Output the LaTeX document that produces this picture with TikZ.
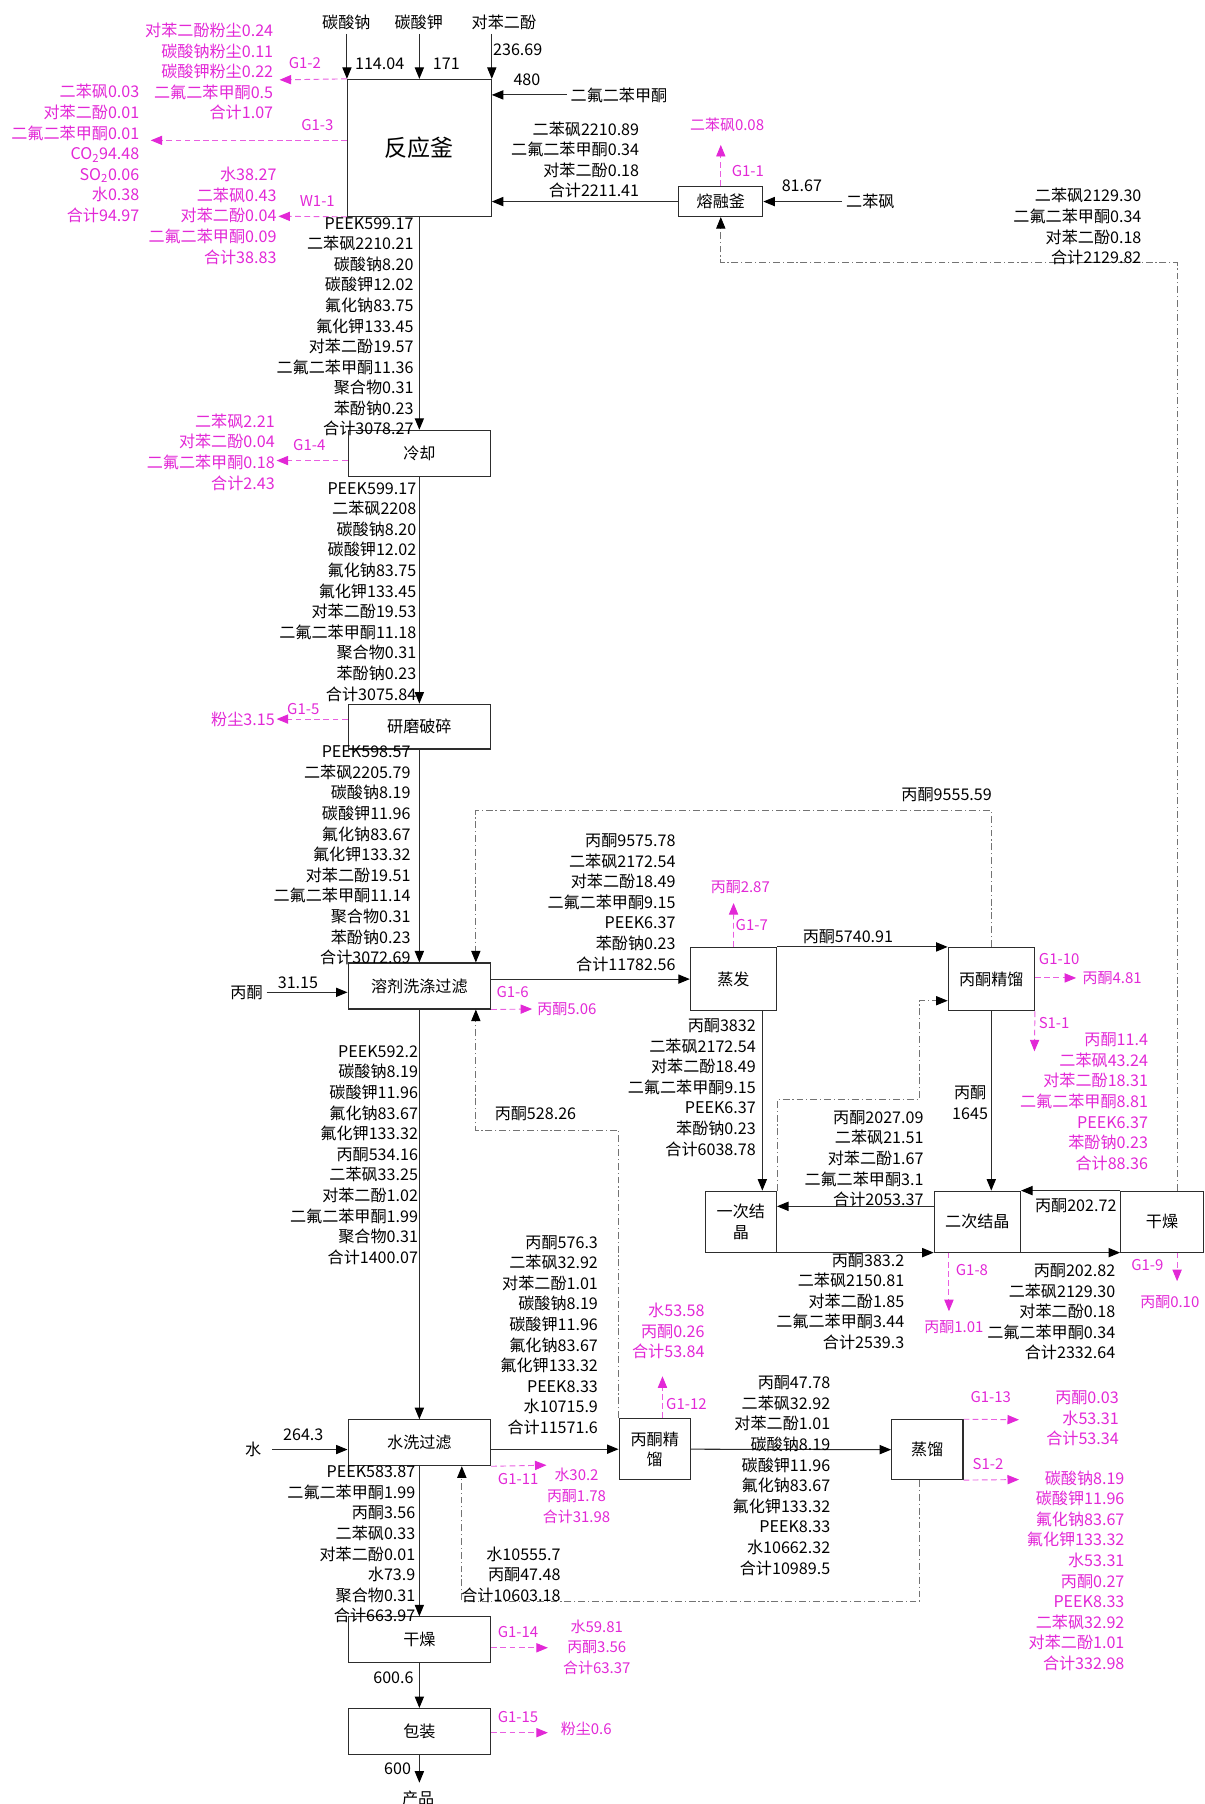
\documentclass[tikz,border=0pt]{standalone}
\usepackage{fontspec}
\setmainfont{Noto Sans CJK SC}
\usetikzlibrary{arrows.meta}
\definecolor{pinkc}{RGB}{226,40,214}
\definecolor{linec}{RGB}{45,45,45}
\tikzset{
  every node/.style={font=\fontsize{14}{17.9}\selectfont},
  box/.style={draw=linec, line width=0.9pt, minimum width=124pt, minimum height=40pt, inner sep=1pt},
  flow/.style={draw=linec, line width=0.9pt, -{Triangle[length=10pt,width=8pt,color=black]}},
  gas/.style={draw=pinkc!75, line width=0.8pt, dash pattern=on 5pt off 3pt, -{Triangle[length=10pt,width=8pt,color=pinkc]}},
  recyc/.style={draw=gray!90!black, line width=0.7pt, dash pattern=on 6pt off 2.5pt on 1pt off 2.5pt, -{Triangle[length=10pt,width=8pt,color=black]}},
  dat/.style={align=right, inner sep=0pt, anchor=east},
  mdat/.style={dat, text=pinkc},
  tag/.style={inner sep=0pt, text=pinkc, font=\fontsize{13}{17.9}\selectfont},
}
\begin{document}
\begin{tikzpicture}[x=1pt,y=-1pt]
\useasboundingbox (0,0) rectangle (1047,1568);

% process units
\node[box, minimum width=125pt, minimum height=119pt, font=\fontsize{20}{24}\selectfont] (reactor) at (364.5,128.5) {反应釜};
\node[box, minimum width=73pt, minimum height=26pt] (melt) at (626.5,175.2) {熔融釜};
\node[box] (cool) at (364.5,394) {冷却};
\node[box, minimum height=39pt] (grind) at (364.5,631.5) {研磨破碎};
\node[box] (wash) at (364.5,857) {溶剂洗涤过滤};
\node[box, minimum width=75pt, minimum height=55pt] (evap) at (637.5,851) {蒸发};
\node[box, minimum width=75pt, minimum height=55pt] (acet1) at (861.6,851) {丙酮精馏};
\node[box, minimum width=62pt, minimum height=53pt, align=center] (cryst1) at (643.9,1061.8) {一次结\\晶};
\node[box, minimum width=75pt, minimum height=53pt] (cryst2) at (849.5,1061.8) {二次结晶};
\node[box, minimum width=72pt, minimum height=53pt] (dry1) at (1010,1061.8) {干燥};
\node[box] (wwash) at (364.5,1254) {水洗过滤};
\node[box, minimum width=62pt, minimum height=53pt, align=center] (acet2) at (569.1,1259.6) {丙酮精\\馏};
\node[box, minimum width=62pt, minimum height=52pt] (dist) at (806,1260) {蒸馏};
\node[box] (dry2) at (364.5,1425.3) {干燥};
\node[box] (pack) at (364.5,1505) {包装};

% main line
\draw[flow] (reactor.south) -- (cool.north);
\draw[flow] (cool.south) -- (grind.north);
\draw[flow] (grind.south) -- (wash.north);
\draw[flow] (wash.south) -- (wwash.north);
\draw[flow] (wwash.south) -- (dry2.north);
\draw[flow] (dry2.south) -- (pack.north);
\coordinate (prod) at (364.5,1549.5);
\draw[flow] (pack.south) -- (prod);
\node (prodt) at (363.5,1563) {产品};
\node (n6006) at (342,1458.3) {600.6};
\node (n600) at (345.6,1537) {600};

% raw materials
\node (na) at (301,19.5) {碳酸钠};
\node (kk) at (364,19.5) {碳酸钾};
\node (hq) at (438,19.5) {对苯二酚};
\draw[flow] (reactor.north west |- na.south) -- (reactor.north west);
\draw[flow] (reactor.north |- kk.south) -- (reactor.north);
\draw[flow] (reactor.north east |- hq.south) -- (reactor.north east);
\node (n11404) at (330,55) {114.04};
\node (n171) at (388,55) {171};
\node (n23669) at (450,43) {236.69};
\node (dfbp) at (538,82.5) {二氟二苯甲酮};
\draw[flow] (dfbp.west) -- (dfbp.west -| reactor.east);
\node (n480) at (458,69) {480};

% melting pot
\node (dps) at (756.5,175.2) {二苯砜};
\draw[flow] (dps.west) -- (melt.east);
\node (n8167) at (697,161.6) {81.67};
\draw[flow] (melt.west) -- (melt.west -| reactor.east);
\node[dat] (s01) at (555.7,139) {二苯砜2210.89\\二氟二苯甲酮0.34\\对苯二酚0.18\\合计2211.41};
\coordinate (g11) at (626.5,126);
\draw[gas] (melt.north) -- (g11);
\node[tag] (g11t) at (650,148.3) {G1-1};
\node[tag] (g11m) at (632,108.6) {二苯砜0.08};

% reactor emissions
\coordinate (g12) at (243,69.4);
\draw[gas] (reactor.north west) -- (g12);
\node[tag] (g12t) at (265,55) {G1-2};
\node[mdat] (g12m) at (237.6,62.2) {对苯二酚粉尘0.24\\碳酸钠粉尘0.11\\碳酸钾粉尘0.22\\二氟二苯甲酮0.5\\合计1.07};
\coordinate (g13) at (131,122);
\draw[gas] (reactor.west |- g13) -- (g13);
\node[tag] (g13t) at (275.8,108.5) {G1-3};
\node[mdat] (g13m) at (121.3,133.4) {二苯砜0.03\\对苯二酚0.01\\二氟二苯甲酮0.01\\CO\textsubscript{2}94.48\\SO\textsubscript{2}0.06\\水0.38\\合计94.97};
\coordinate (w11) at (242,188);
\draw[gas] (reactor.south west) -- (w11);
\node[tag] (w11t) at (275.8,174.4) {W1-1};
\node[mdat] (w11m) at (240.5,187.6) {水38.27\\二苯砜0.43\\对苯二酚0.04\\二氟二苯甲酮0.09\\合计38.83};
\node[dat] (s02) at (359.6,284) {PEEK599.17\\二苯砜2210.21\\碳酸钠8.20\\碳酸钾12.02\\氟化钠83.75\\氟化钾133.45\\对苯二酚19.57\\二氟二苯甲酮11.36\\聚合物0.31\\苯酚钠0.23\\合计3078.27};

% cooling and grinding
\coordinate (g14) at (240.4,400.3);
\draw[gas] (cool.west |- g14) -- (g14);
\node[tag] (g14t) at (268.8,386.7) {G1-4};
\node[mdat] (g14m) at (239,393) {二苯砜2.21\\对苯二酚0.04\\二氟二苯甲酮0.18\\合计2.43};
\node[dat] (s03) at (362,514.4) {PEEK599.17\\二苯砜2208\\碳酸钠8.20\\碳酸钾12.02\\氟化钠83.75\\氟化钾133.45\\对苯二酚19.53\\二氟二苯甲酮11.18\\聚合物0.31\\苯酚钠0.23\\合计3075.84};
\coordinate (g15) at (240.4,625);
\draw[gas] (grind.west |- g15) -- (g15);
\node[tag] (g15t) at (263.6,616.3) {G1-5};
\node[mdat] (g15m) at (239,625) {粉尘3.15};
\node[dat] (s04) at (357,743.5) {PEEK598.57\\二苯砜2205.79\\碳酸钠8.19\\碳酸钾11.96\\氟化钠83.67\\氟化钾133.32\\对苯二酚19.51\\二氟二苯甲酮11.14\\聚合物0.31\\苯酚钠0.23\\合计3072.69};

% solvent washing
\node (acin) at (214.3,862.5) {丙酮};
\draw[flow] (acin.east) -- (acin.east -| wash.west);
\node (n3115) at (259,854.4) {31.15};
\draw[flow] (wash.east |- evap.west) -- (evap.west);
\node[dat] (s05) at (587.3,784.5) {丙酮9575.78\\二苯砜2172.54\\对苯二酚18.49\\二氟二苯甲酮9.15\\PEEK6.37\\苯酚钠0.23\\合计11782.56};
\coordinate (g16) at (462.5,877);
\draw[gas] (wash.south east) -- (g16);
\node[tag] (g16t) at (445.5,862.2) {G1-6};
\node[tag, anchor=west] (g16m) at (466.9,877) {丙酮5.06};
\node[dat] (s06) at (363.5,1003.9) {PEEK592.2\\碳酸钠8.19\\碳酸钾11.96\\氟化钠83.67\\氟化钾133.32\\丙酮534.16\\二苯砜33.25\\对苯二酚1.02\\二氟二苯甲酮1.99\\聚合物0.31\\合计1400.07};

% evaporation and acetone rectification
\draw[flow] (evap.north east) -- (acet1.north west);
\node (s07) at (737,813.9) {丙酮5740.91};
\coordinate (g17) at (637.6,784.9);
\draw[gas] (evap.north) -- (g17);
\node[tag] (g17t) at (653.4,804.3) {G1-7};
\node[tag] (g17m) at (643.5,771) {丙酮2.87};
\coordinate (e1) at (662.6,0);
\draw[flow] (evap.south -| e1) -- (cryst1.north -| e1);
\node[dat] (s08) at (657.1,945.2) {丙酮3832\\二苯砜2172.54\\对苯二酚18.49\\二氟二苯甲酮9.15\\PEEK6.37\\苯酚钠0.23\\合计6038.78};
\coordinate (g110) at (935.4,850);
\draw[gas] (acet1.east |- g110) -- (g110);
\node[tag] (g110t) at (920.6,833.3) {G1-10};
\node[tag] (g110m) at (966.7,850) {丙酮4.81};
\coordinate (s11) at (899.1,913.8);
\draw[gas] (acet1.south east) -- (s11);
\node[tag] (s11t) at (916.2,889.2) {S1-1};
\node[mdat] (s11m) at (998,957.6) {丙酮11.4\\二苯砜43.24\\对苯二酚18.31\\二氟二苯甲酮8.81\\PEEK6.37\\苯酚钠0.23\\合计88.36};
\draw[flow] (acet1.south) -- (acet1.south |- cryst2.north);
\node[align=center] (s09) at (843.2,958.4) {丙酮\\1645};

% crystallisation
\coordinate (c1) at (0,1048.5);
\draw[flow] (cryst2.west |- c1) -- (cryst1.east |- c1);
\node[dat] (s10) at (802.9,1007.2) {丙酮2027.09\\二苯砜21.51\\对苯二酚1.67\\二氟二苯甲酮3.1\\合计2053.37};
\draw[flow] (cryst1.south east) -- (cryst2.south west);
\node[dat] (s11b) at (786.2,1131.3) {丙酮383.2\\二苯砜2150.81\\对苯二酚1.85\\二氟二苯甲酮3.44\\合计2539.3};
\draw[flow] (cryst2.south east) -- (dry1.south west);
\node[dat] (s12) at (969.5,1140.3) {丙酮202.82\\二苯砜2129.30\\对苯二酚0.18\\二氟二苯甲酮0.34\\合计2332.64};
\draw[flow] (dry1.north west) -- (cryst2.north east);
\node[dat] (s13) at (970.6,1047.9) {丙酮202.72};
\coordinate (g18) at (824.8,1139.7);
\draw[gas] (g18 |- cryst2.south) -- (g18);
\node[tag] (g18t) at (844.8,1103.5) {G1-8};
\node[tag] (g18m) at (829.1,1153.6) {丙酮1.01};
\coordinate (g19) at (1023.1,1113.6);
\draw[gas] (g19 |- dry1.south) -- (g19);
\node[tag] (g19t) at (997.3,1099.7) {G1-9};
\node[tag] (g19m) at (1016.8,1131.9) {丙酮0.10};

% water washing
\node (win) at (220.1,1259.9) {水};
\draw[flow, shorten <=6pt] (win.east) -- (win.east -| wwash.west);
\node (n2643) at (263.6,1246.9) {264.3};
\draw[flow] (wwash.east |- acet2.west) -- (acet2.west);
\node[dat] (s14) at (519.9,1160.3) {丙酮576.3\\二苯砜32.92\\对苯二酚1.01\\碳酸钠8.19\\碳酸钾11.96\\氟化钠83.67\\氟化钾133.32\\PEEK8.33\\水10715.9\\合计11571.6};
\coordinate (g111) at (475,1273.5);
\draw[gas] (wwash.south east) -- (g111);
\node[tag] (g111t) at (450.4,1285.4) {G1-11};
\node[tag, align=center] (g111m) at (501.1,1300.2) {水30.2\\丙酮1.78\\合计31.98};
\node[dat] (s15) at (361.2,1342.5) {PEEK583.87\\二氟二苯甲酮1.99\\丙酮3.56\\二苯砜0.33\\对苯二酚0.01\\水73.9\\聚合物0.31\\合计663.97};
\coordinate (g112) at (575.8,1196.2);
\draw[gas] (g112 |- acet2.north) -- (g112);
\node[tag] (g112t) at (596.6,1219.9) {G1-12};
\node[mdat] (g112m) at (612.6,1157) {水53.58\\丙酮0.26\\合计53.84};
\draw[flow] (acet2.east) -- (dist.west);
\node[dat] (s16) at (721.8,1282.6) {丙酮47.78\\二苯砜32.92\\对苯二酚1.01\\碳酸钠8.19\\碳酸钾11.96\\氟化钠83.67\\氟化钾133.32\\PEEK8.33\\水10662.32\\合计10989.5};
\coordinate (g113) at (885.7,1234);
\draw[gas] (dist.north east) -- (g113);
\node[tag] (g113t) at (861.1,1214.4) {G1-13};
\node[mdat] (g113m) at (972.6,1233) {丙酮0.03\\水53.31\\合计53.34};
\coordinate (s12e) at (885.7,1286);
\draw[gas] (dist.south east) -- (s12e);
\node[tag] (s12t) at (858.7,1272.3) {S1-2};
\node[mdat] (s12m) at (977.5,1365.2) {碳酸钠8.19\\碳酸钾11.96\\氟化钠83.67\\氟化钾133.32\\水53.31\\丙酮0.27\\PEEK8.33\\二苯砜32.92\\对苯二酚1.01\\合计332.98};

% drying and packing
\coordinate (g114) at (476.2,1432.2);
\draw[gas] (dry2.east |- g114) -- (g114);
\node[tag] (g114t) at (450.2,1418.3) {G1-14};
\node[tag, align=center] (g114m) at (518.7,1431.5) {水59.81\\丙酮3.56\\合计63.37};
\coordinate (g115) at (476.2,1506);
\draw[gas] (pack.east |- g115) -- (g115);
\node[tag] (g115t) at (450.2,1492.5) {G1-15};
\node[tag] (g115m) at (509.6,1502.6) {粉尘0.6};

% recycle streams
\coordinate (r1) at (413.6,704.5);
\draw[recyc] (acet1.north) |- (r1) -- (r1 |- wash.north);
\node (s17) at (822.8,690.8) {丙酮9555.59};
\coordinate (m1) at (799,955.8);
\coordinate (m2) at (799,869.8);
\draw[recyc] (cryst1.north east) |- (m1) -- (m2) -- (m2 -| acet1.west);
\coordinate (r2) at (1023.1,228.2);
\draw[recyc] (r2 |- dry1.north) -- (r2) -| (melt.south);
\node[dat] (s18) at (992.3,197) {二苯砜2129.30\\二氟二苯甲酮0.34\\对苯二酚0.18\\合计2129.82};
\coordinate (r3) at (413.6,982.4);
\draw[recyc] (acet2.north west) |- (r3) -- (r3 |- wash.south);
\node (s19) at (465.4,968.2) {丙酮528.26};
\coordinate (r4) at (799.4,1391.6);
\coordinate (r5) at (401.4,1391.6);
\draw[recyc] (r4 |- dist.south) -- (r4) -- (r5) -- (r5 |- wwash.south);
\node[dat] (s20) at (487.4,1368.5) {水10555.7\\丙酮47.48\\合计10603.18};
\end{tikzpicture}
\end{document}
